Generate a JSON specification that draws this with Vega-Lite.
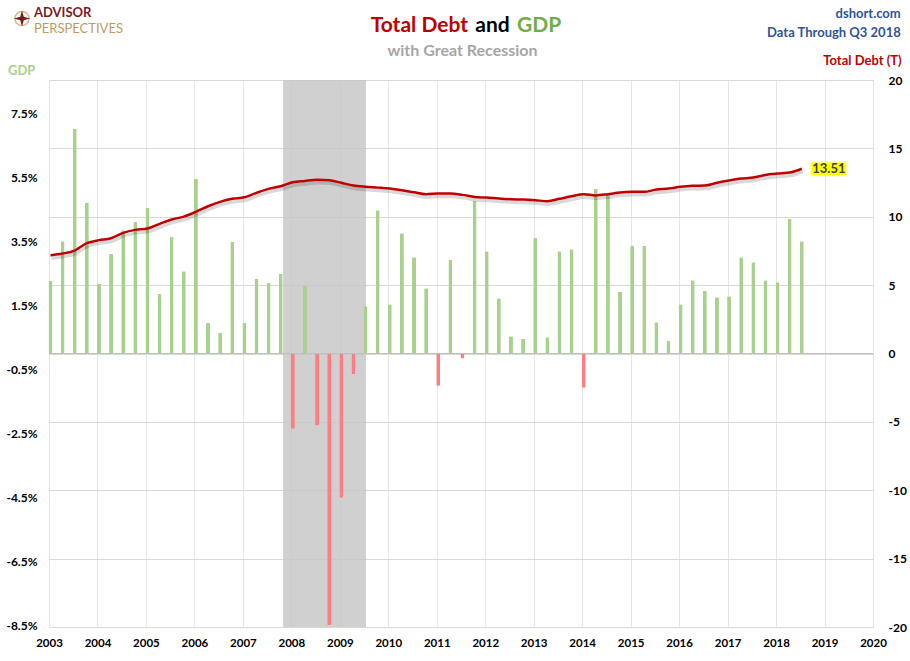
{
  "$schema": "https://vega.github.io/schema/vega-lite/v6.json",
  "autosize": "none",
  "width": 824,
  "height": 547,
  "padding": {"left": 49, "top": 80, "right": 37, "bottom": 34},
  "background": "#ffffff",
  "datasets": {
    "one": [{}],
    "quarters": [
      {"t": 2003.00, "gdp": 2.27, "debt": 7.19},
      {"t": 2003.25, "gdp": 3.51, "debt": 7.31},
      {"t": 2003.50, "gdp": 7.02, "debt": 7.53},
      {"t": 2003.75, "gdp": 4.71, "debt": 8.07},
      {"t": 2004.00, "gdp": 2.18, "debt": 8.29},
      {"t": 2004.25, "gdp": 3.11, "debt": 8.43},
      {"t": 2004.50, "gdp": 3.85, "debt": 8.82},
      {"t": 2004.75, "gdp": 4.11, "debt": 9.04},
      {"t": 2005.00, "gdp": 4.55, "debt": 9.14},
      {"t": 2005.25, "gdp": 1.86, "debt": 9.48},
      {"t": 2005.50, "gdp": 3.65, "debt": 9.80},
      {"t": 2005.75, "gdp": 2.57, "debt": 10.01},
      {"t": 2006.00, "gdp": 5.46, "debt": 10.36},
      {"t": 2006.25, "gdp": 0.95, "debt": 10.77},
      {"t": 2006.50, "gdp": 0.64, "debt": 11.09},
      {"t": 2006.75, "gdp": 3.49, "debt": 11.31},
      {"t": 2007.00, "gdp": 0.95, "debt": 11.43},
      {"t": 2007.25, "gdp": 2.33, "debt": 11.75},
      {"t": 2007.50, "gdp": 2.21, "debt": 12.04},
      {"t": 2007.75, "gdp": 2.49, "debt": 12.23},
      {"t": 2008.00, "gdp": -2.35, "debt": 12.52},
      {"t": 2008.25, "gdp": 2.11, "debt": 12.62},
      {"t": 2008.50, "gdp": -2.24, "debt": 12.70},
      {"t": 2008.75, "gdp": -8.49, "debt": 12.67},
      {"t": 2009.00, "gdp": -4.51, "debt": 12.48},
      {"t": 2009.25, "gdp": -0.64, "debt": 12.28},
      {"t": 2009.50, "gdp": 1.48, "debt": 12.19},
      {"t": 2009.75, "gdp": 4.48, "debt": 12.13},
      {"t": 2010.00, "gdp": 1.54, "debt": 12.06},
      {"t": 2010.25, "gdp": 3.76, "debt": 11.94},
      {"t": 2010.50, "gdp": 3.01, "debt": 11.79},
      {"t": 2010.75, "gdp": 2.04, "debt": 11.65},
      {"t": 2011.00, "gdp": -1.01, "debt": 11.70},
      {"t": 2011.25, "gdp": 2.92, "debt": 11.70},
      {"t": 2011.50, "gdp": -0.16, "debt": 11.60},
      {"t": 2011.75, "gdp": 4.77, "debt": 11.45},
      {"t": 2012.00, "gdp": 3.20, "debt": 11.40},
      {"t": 2012.25, "gdp": 1.73, "debt": 11.33},
      {"t": 2012.50, "gdp": 0.54, "debt": 11.28},
      {"t": 2012.75, "gdp": 0.46, "debt": 11.26},
      {"t": 2013.00, "gdp": 3.61, "debt": 11.21},
      {"t": 2013.25, "gdp": 0.51, "debt": 11.14},
      {"t": 2013.50, "gdp": 3.20, "debt": 11.31},
      {"t": 2013.75, "gdp": 3.26, "debt": 11.50},
      {"t": 2014.00, "gdp": -1.07, "debt": 11.65},
      {"t": 2014.25, "gdp": 5.15, "debt": 11.56},
      {"t": 2014.50, "gdp": 4.97, "debt": 11.65},
      {"t": 2014.75, "gdp": 1.93, "debt": 11.77},
      {"t": 2015.00, "gdp": 3.36, "debt": 11.82},
      {"t": 2015.25, "gdp": 3.36, "debt": 11.82},
      {"t": 2015.50, "gdp": 0.98, "debt": 11.99},
      {"t": 2015.75, "gdp": 0.39, "debt": 12.06},
      {"t": 2016.00, "gdp": 1.54, "debt": 12.19},
      {"t": 2016.25, "gdp": 2.29, "debt": 12.26},
      {"t": 2016.50, "gdp": 1.95, "debt": 12.28},
      {"t": 2016.75, "gdp": 1.76, "debt": 12.48},
      {"t": 2017.00, "gdp": 1.79, "debt": 12.65},
      {"t": 2017.25, "gdp": 3.01, "debt": 12.79},
      {"t": 2017.50, "gdp": 2.85, "debt": 12.87},
      {"t": 2017.75, "gdp": 2.29, "debt": 13.06},
      {"t": 2018.00, "gdp": 2.23, "debt": 13.16},
      {"t": 2018.25, "gdp": 4.21, "debt": 13.23},
      {"t": 2018.50, "gdp": 3.51, "debt": 13.51}
    ]
  },
  "config": {
    "view": {"stroke": null},
    "font": "Lato",
    "scale": {"continuousPadding": 0},
    "axis": {
      "labelFont": "Lato",
      "labelFontWeight": "bold",
      "labelFontSize": 12,
      "labelColor": "#000000",
      "labelFlush": false
    }
  },
  "layer": [
    {
      "data": {"name": "one"},
      "mark": {"type": "rect", "color": "#c4c4c4", "opacity": 0.8},
      "encoding": {
        "x": {
          "datum": 2007.83,
          "type": "quantitative",
          "scale": {"domain": [2003, 2020], "nice": false, "zero": false, "padding": 0},
          "axis": {
            "title": null,
            "values": [2003, 2004, 2005, 2006, 2007, 2008, 2009, 2010, 2011, 2012, 2013, 2014, 2015, 2016, 2017, 2018, 2019, 2020],
            "format": "d",
            "grid": true,
            "gridColor": "#e6e6e6",
            "domain": false,
            "ticks": false,
            "labelPadding": 10,
            "labelFontSize": 11.5,
            "labelFlush": false,
            "labelBound": false,
            "labelOverlap": false
          }
        },
        "x2": {"datum": 2009.54}
      }
    },
    {
      "data": {"name": "quarters"},
      "mark": {"type": "bar", "size": 4, "xOffset": 1.5, "cornerRadius": 1},
      "encoding": {
        "x": {"field": "t", "type": "quantitative", "axis": {"title": null}},
        "y": {
          "field": "gdp",
          "type": "quantitative",
          "scale": {"domain": [-8.55, 8.55], "nice": false},
          "axis": {
            "orient": "left",
            "title": null,
            "values": [-8.5, -6.5, -4.5, -2.5, -0.5, 1.5, 3.5, 5.5, 7.5],
            "labelExpr": "replace(format(datum.value, '.1f'), '\u2212', '-') + '%'",
            "grid": false,
            "domain": false,
            "ticks": false,
            "labelPadding": 12
          }
        },
        "color": {
          "condition": {"test": "datum.gdp < 0", "value": "#ff7c80"},
          "value": "#a9d18e"
        },
        "tooltip": [
          {"field": "t", "type": "quantitative", "title": "Quarter"},
          {"field": "gdp", "type": "quantitative", "title": "GDP %"}
        ]
      }
    },
    {
      "layer": [
        {
          "data": {"name": "one"},
          "mark": {"type": "rule", "color": "#bfbfbf", "strokeWidth": 1.2},
          "encoding": {
            "y": {"datum": 0, "type": "quantitative"}
          }
        },
        {
          "data": {"name": "quarters"},
          "mark": {"type": "line", "color": "#000000", "opacity": 0.15, "strokeWidth": 3.5, "interpolate": "monotone", "xOffset": 2.5, "yOffset": 3},
          "encoding": {
            "x": {"field": "t", "type": "quantitative", "axis": {"title": null}},
            "y": {"field": "debt", "type": "quantitative"}
          }
        },
        {
          "data": {"name": "quarters"},
          "mark": {"type": "line", "color": "#c00000", "strokeWidth": 2.5, "interpolate": "monotone", "xOffset": 1.5},
          "encoding": {
            "x": {"field": "t", "type": "quantitative", "axis": {"title": null}},
            "y": {
              "field": "debt",
              "type": "quantitative",
              "scale": {"domain": [-20, 20], "nice": false, "zero": false},
              "axis": {
                "orient": "right",
                "title": null,
                "values": [-20, -15, -10, -5, 0, 5, 10, 15, 20],
                "labelExpr": "replace(format(datum.value, 'd'), '\u2212', '-')",
                "grid": true,
                "gridColor": "#d9d9d9",
                "domain": false,
                "ticks": false,
                "labelAlign": "left",
                "labelPadding": 15
              }
            },
            "tooltip": [
              {"field": "t", "type": "quantitative", "title": "Quarter"},
              {"field": "debt", "type": "quantitative", "title": "Total Debt (T)"}
            ]
          }
        },
        {
          "data": {"name": "one"},
          "mark": {"type": "rect", "color": "#ffff00", "opacity": 0.35},
          "encoding": {
            "x": {"datum": 2018.70, "type": "quantitative"},
            "x2": {"datum": 2019.48},
            "y": {"datum": 14.05, "type": "quantitative"},
            "y2": {"datum": 12.95}
          }
        },
        {
          "data": {"name": "one"},
          "mark": {"type": "rect", "color": "#ffff00"},
          "encoding": {
            "x": {"datum": 2018.735, "type": "quantitative"},
            "x2": {"datum": 2019.443},
            "y": {"datum": 13.95, "type": "quantitative"},
            "y2": {"datum": 13.05}
          }
        },
        {
          "data": {"name": "one"},
          "mark": {"type": "text", "font": "Lato", "fontWeight": "bold", "fontSize": 13, "color": "#404040", "align": "center", "baseline": "middle"},
          "encoding": {
            "x": {"datum": 2019.09, "type": "quantitative"},
            "y": {"datum": 13.48, "type": "quantitative"},
            "text": {"value": "13.51"}
          }
        },
        {
          "data": {"name": "one"},
          "mark": {"type": "text", "font": "Lato", "fontWeight": "bold", "fontSize": 21, "color": "#c00000", "align": "right", "baseline": "alphabetic"},
          "encoding": {
            "x": {"datum": 2011.645, "type": "quantitative"},
            "y": {"datum": 23.53, "type": "quantitative"},
            "text": {"value": "Total Debt"}
          }
        },
        {
          "data": {"name": "one"},
          "mark": {"type": "text", "font": "Lato", "fontWeight": "bold", "fontSize": 21, "color": "#000000", "align": "center", "baseline": "alphabetic"},
          "encoding": {
            "x": {"datum": 2012.15, "type": "quantitative"},
            "y": {"datum": 23.53, "type": "quantitative"},
            "text": {"value": "and"}
          }
        },
        {
          "data": {"name": "one"},
          "mark": {"type": "text", "font": "Lato", "fontWeight": "bold", "fontSize": 21, "color": "#70ad47", "align": "left", "baseline": "alphabetic"},
          "encoding": {
            "x": {"datum": 2012.655, "type": "quantitative"},
            "y": {"datum": 23.53, "type": "quantitative"},
            "text": {"value": "GDP"}
          }
        },
        {
          "data": {"name": "one"},
          "mark": {"type": "text", "font": "Lato", "fontWeight": "bold", "fontSize": 16, "color": "#a6a6a6", "align": "center", "baseline": "alphabetic"},
          "encoding": {
            "x": {"datum": 2011.53, "type": "quantitative"},
            "y": {"datum": 21.755, "type": "quantitative"},
            "text": {"value": "with Great Recession"}
          }
        },
        {
          "data": {"name": "one"},
          "mark": {"type": "text", "font": "Lato", "fontWeight": "bold", "fontSize": 13, "color": "#2f5597", "align": "right", "baseline": "alphabetic"},
          "encoding": {
            "x": {"datum": 2020.572, "type": "quantitative"},
            "y": {"datum": 24.51, "type": "quantitative"},
            "text": {"value": "dshort.com"}
          }
        },
        {
          "data": {"name": "one"},
          "mark": {"type": "text", "font": "Lato", "fontWeight": "bold", "fontSize": 13, "color": "#2f5597", "align": "right", "baseline": "alphabetic"},
          "encoding": {
            "x": {"datum": 2020.572, "type": "quantitative"},
            "y": {"datum": 23.17, "type": "quantitative"},
            "text": {"value": "Data Through Q3 2018"}
          }
        },
        {
          "data": {"name": "one"},
          "mark": {"type": "text", "font": "Lato", "fontWeight": "bold", "fontSize": 13, "color": "#c00000", "align": "right", "baseline": "alphabetic"},
          "encoding": {
            "x": {"datum": 2020.59, "type": "quantitative"},
            "y": {"datum": 21.1, "type": "quantitative"},
            "text": {"value": "Total Debt (T)"}
          }
        },
        {
          "data": {"name": "one"},
          "mark": {"type": "text", "font": "Lato", "fontWeight": "bold", "fontSize": 13, "color": "#a9d18e", "align": "left", "baseline": "alphabetic"},
          "encoding": {
            "x": {"datum": 2002.154, "type": "quantitative"},
            "y": {"datum": 20.37, "type": "quantitative"},
            "text": {"value": "GDP"}
          }
        },
        {
          "data": {"name": "one"},
          "mark": {"type": "text", "font": "Lato", "fontWeight": "bold", "fontSize": 13, "color": "#7b1a1e", "align": "left", "baseline": "alphabetic"},
          "encoding": {
            "x": {"datum": 2002.69, "type": "quantitative"},
            "y": {"datum": 24.58, "type": "quantitative"},
            "text": {"value": "ADVISOR"}
          }
        },
        {
          "data": {"name": "one"},
          "mark": {"type": "text", "font": "Lato", "fontSize": 13, "color": "#bf9b5a", "align": "left", "baseline": "alphabetic"},
          "encoding": {
            "x": {"datum": 2002.69, "type": "quantitative"},
            "y": {"datum": 23.42, "type": "quantitative"},
            "text": {"value": "PERSPECTIVES"}
          }
        },
        {
          "data": {"name": "one"},
          "mark": {"type": "point", "shape": "circle", "size": 200, "filled": false, "stroke": "#bf9b5a", "strokeWidth": 1.5},
          "encoding": {
            "x": {"datum": 2002.443, "type": "quantitative"},
            "y": {"datum": 24.5, "type": "quantitative"}
          }
        },
        {
          "data": {"name": "one"},
          "mark": {"type": "point", "shape": "M0,-1L0.22,-0.22L1,0L0.22,0.22L0,1L-0.22,0.22L-1,0L-0.22,-0.22Z", "size": 260, "filled": true, "color": "#7b1a1e", "opacity": 1},
          "encoding": {
            "x": {"datum": 2002.443, "type": "quantitative"},
            "y": {"datum": 24.5, "type": "quantitative"}
          }
        }
      ]
    }
  ],
  "resolve": {"scale": {"y": "independent"}}
}
